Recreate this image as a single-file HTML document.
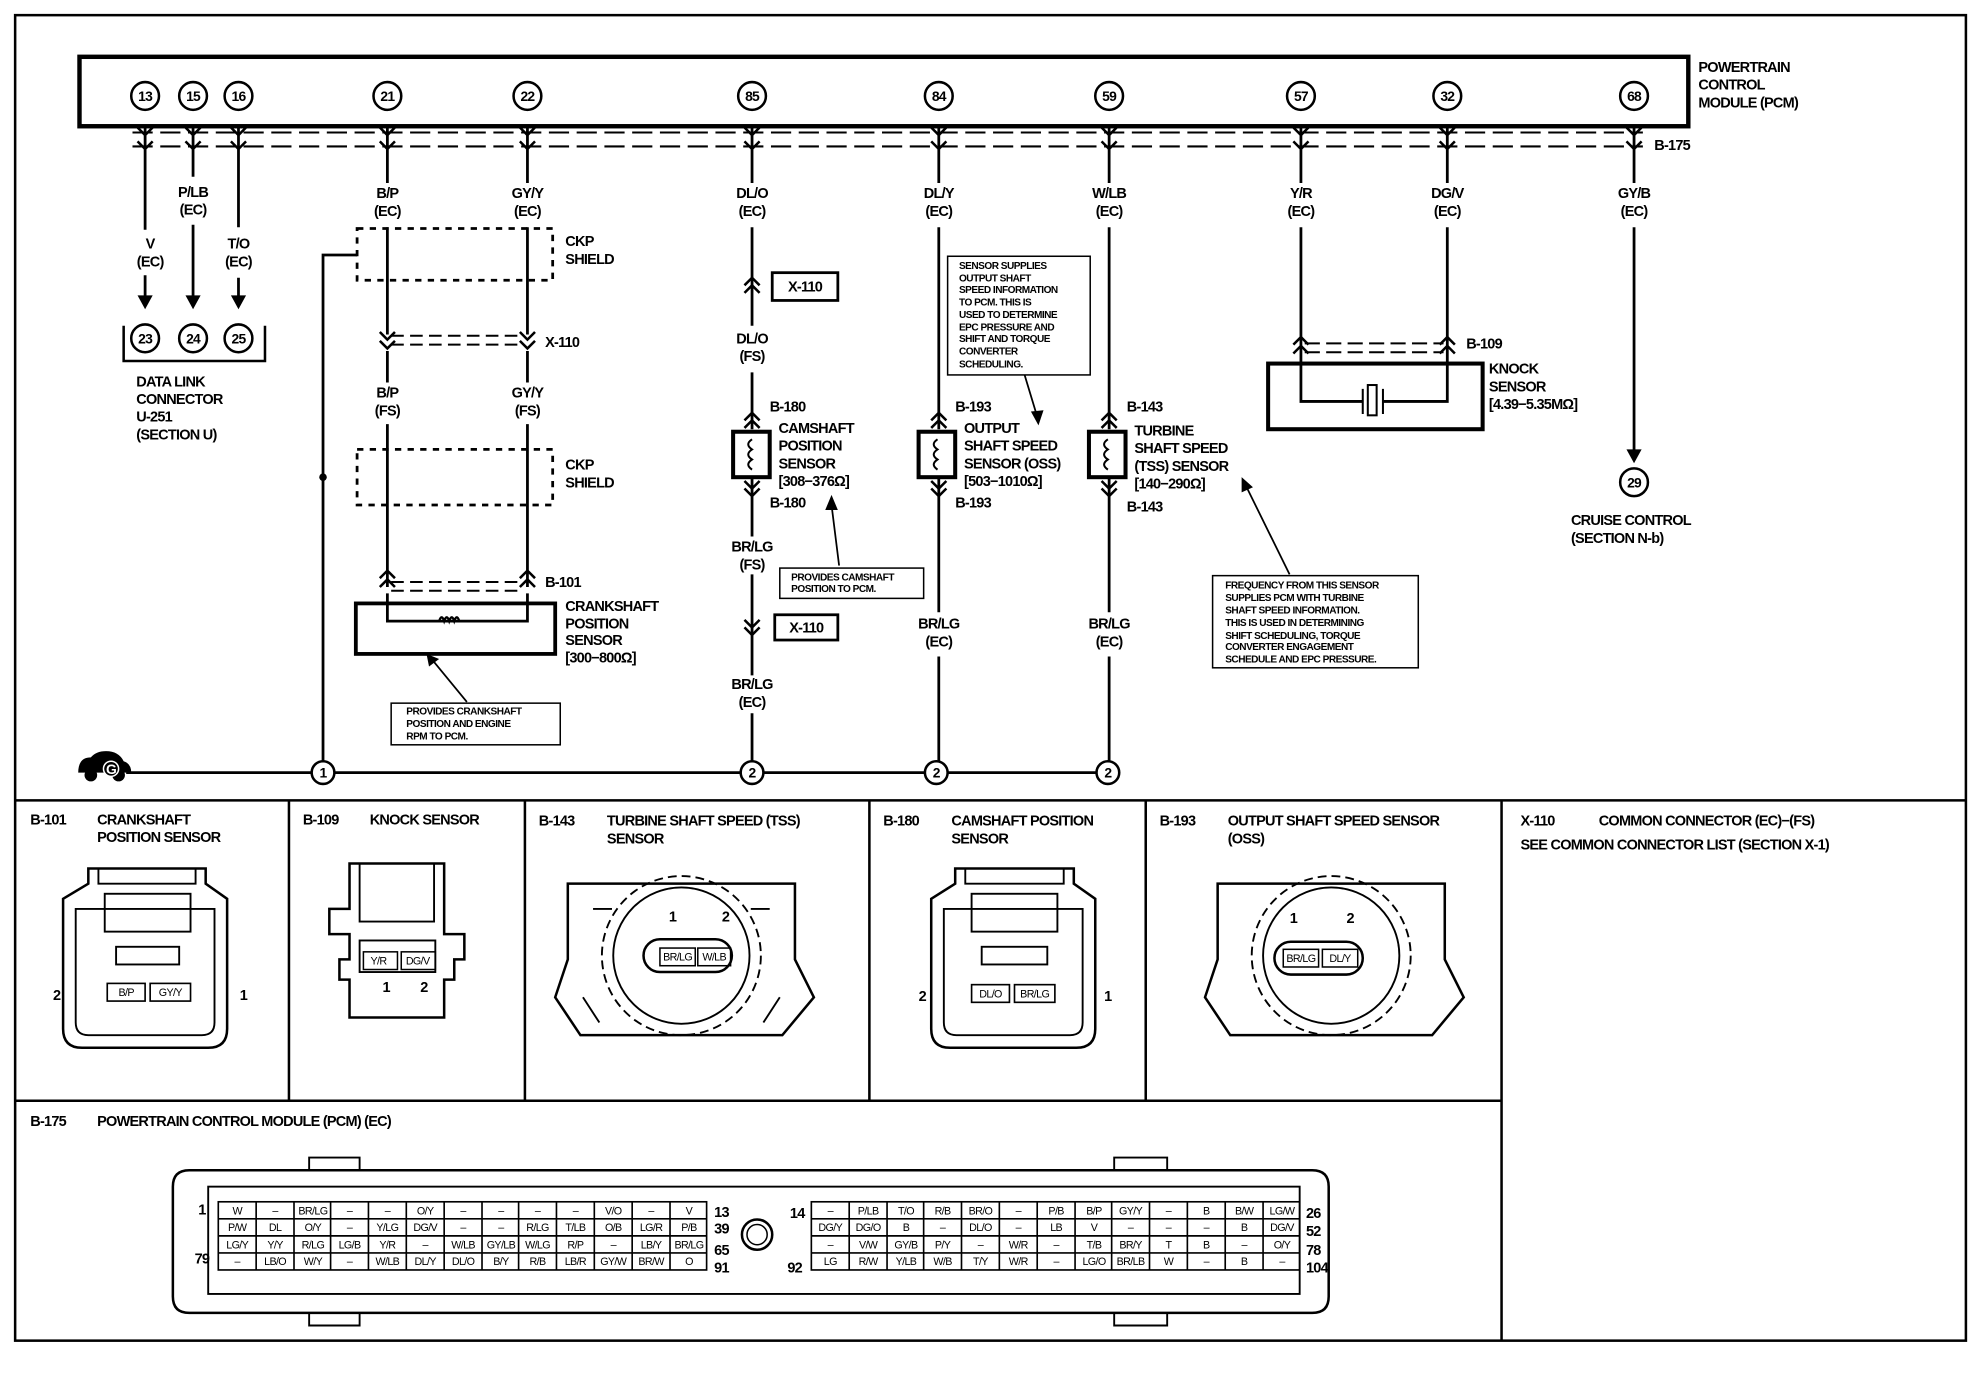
<!DOCTYPE html>
<html><head><meta charset="utf-8"><style>
html,body{margin:0;padding:0;background:#fff}
svg{display:block}
text{font-family:"Liberation Sans",sans-serif;font-weight:bold;fill:#000;font-size:11.5px;letter-spacing:-0.6px}
.s{font-size:8px;letter-spacing:-0.4px}
.c{text-anchor:middle}
.g{font-size:8.5px;text-anchor:middle;font-weight:normal;letter-spacing:-0.5px}
.n{font-weight:bold;font-size:11px;text-anchor:middle}
</style></head><body>
<svg width="1976" height="1376" viewBox="0 0 1566 1090" preserveAspectRatio="none" xmlns="http://www.w3.org/2000/svg">
<g fill="none" stroke="#000" stroke-width="1.6">
<rect x="12" y="12" width="1546" height="1050" stroke-width="2"/>
<rect x="63" y="45" width="1275" height="55" stroke-width="3.5"/>
<path d="M105 105H1302M105 116H1302" stroke-dasharray="16,6"/>
<g stroke-width="2.2">
<path d="M115 100V182M115 218V238M153 100V140M153 178V238M189 100V180M189 220V238"/>
<path d="M307 100V145M307 180V265M307 278V303M307 336V465M307 470V492H418V470M418 465V336M418 303V278M418 265V180M418 100V145"/>
<path d="M596 100V145M596 180V258M596 295V340M596 378V425M596 455V535M596 565V612"/>
<path d="M744 100V145M744 180V340M744 378V485M744 520V612"/>
<path d="M879 100V145M879 180V340M879 378V485M879 520V612"/>
<path d="M1031 100V145M1031 180V318H1080M1096 318H1147V180M1147 100V145"/>
<path d="M1295 100V145M1295 180V358"/>
<path d="M100 612H878M256 612V202H283"/>
</g>
<g stroke-width="2" fill="#fff">
<circle cx="115" cy="76" r="11"/><circle cx="153" cy="76" r="11"/><circle cx="189" cy="76" r="11"/>
<circle cx="307" cy="76" r="11"/><circle cx="418" cy="76" r="11"/><circle cx="596" cy="76" r="11"/>
<circle cx="744" cy="76" r="11"/><circle cx="879" cy="76" r="11"/><circle cx="1031" cy="76" r="11"/>
<circle cx="1147" cy="76" r="11"/><circle cx="1295" cy="76" r="11"/>
<circle cx="115" cy="268" r="11"/><circle cx="153" cy="268" r="11"/><circle cx="189" cy="268" r="11"/>
<circle cx="1295" cy="382" r="11"/>
<circle cx="256" cy="612" r="9"/><circle cx="596" cy="612" r="9"/><circle cx="742" cy="612" r="9"/><circle cx="878" cy="612" r="9"/>
</g>
<g stroke-width="2">
<path d="M109 101L115 107L121 101M109 112L115 118L121 112"/>
<path d="M147 101L153 107L159 101M147 112L153 118L159 112"/>
<path d="M183 101L189 107L195 101M183 112L189 118L195 112"/>
<path d="M301 101L307 107L313 101M301 112L307 118L313 112"/>
<path d="M412 101L418 107L424 101M412 112L418 118L424 112"/>
<path d="M590 101L596 107L602 101M590 112L596 118L602 112"/>
<path d="M738 101L744 107L750 101M738 112L744 118L750 112"/>
<path d="M873 101L879 107L885 101M873 112L879 118L885 112"/>
<path d="M1025 101L1031 107L1037 101M1025 112L1031 118L1037 112"/>
<path d="M1141 101L1147 107L1153 101M1141 112L1147 118L1153 112"/>
<path d="M1289 101L1295 107L1301 101M1289 112L1295 118L1301 112"/>
</g>
<path d="M98 258V286H210V258" stroke-width="2"/>
<g fill="#000" stroke="none">
<path d="M109 234L121 234L115 245Z"/><path d="M147 234L159 234L153 245Z"/><path d="M183 234L195 234L189 245Z"/>
<path d="M1289 356L1301 356L1295 367Z"/>
<circle cx="256" cy="378" r="3"/>
</g>
<rect x="283" y="181" width="155" height="41" stroke-dasharray="5,5" stroke-width="2.2"/>
<rect x="283" y="356" width="155" height="44" stroke-dasharray="5,5" stroke-width="2.2"/>
<path d="M301 263L307 269L313 263M301 270L307 276L313 270M412 263L418 269L424 263M412 270L418 276L424 270" stroke-width="2"/>
<path d="M310 266H415M310 273H415" stroke-dasharray="10,5"/>
<path d="M301 458L307 452L313 458M301 465L307 459L313 465M412 458L418 452L424 458M412 465L418 459L424 465" stroke-width="2"/>
<path d="M310 461H415M310 468H415" stroke-dasharray="10,5"/>
<rect x="282" y="478" width="158" height="40" stroke-width="3"/>
<path d="M348 492q2-6 4 0q2-6 4 0q2-6 4 0q2-6 4 0" stroke-width="1.8"/>
<path d="M370 556L342 522M665 448L659 400M812 297L822 330M1022 455L987 384" stroke-width="1.4"/>
<g fill="#000" stroke="none">
<path d="M338 518L348 522L340 528Z"/><path d="M659 392L664 404L654 404Z"/><path d="M823 337L817 326L827 325Z"/><path d="M984 378L993 386L984 390Z"/>
</g>
<rect x="310" y="557" width="134" height="33" stroke-width="1.2"/>
<rect x="618" y="450" width="114" height="24" stroke-width="1.2"/>
<rect x="751" y="203" width="113" height="94" stroke-width="1.2"/>
<rect x="961" y="456" width="163" height="73" stroke-width="1.2"/>
<rect x="612" y="216" width="52" height="22" stroke-width="2.2"/>
<rect x="614" y="487" width="50" height="20" stroke-width="2.2"/>
<path d="M590 226L596 220L602 226M590 232L596 226L602 232M590 491L596 497L602 491M590 497L596 503L602 497" stroke-width="2"/>
<rect x="581" y="342" width="29" height="36" stroke-width="3.2"/>
<rect x="728" y="342" width="29" height="36" stroke-width="3.2"/>
<rect x="863" y="342" width="29" height="36" stroke-width="3.2"/>
<path d="M596 348q-6 4 0 8q-6 4 0 8q-6 4 0 8M743 348q-6 4 0 8q-6 4 0 8q-6 4 0 8M878 348q-6 4 0 8q-6 4 0 8q-6 4 0 8" stroke-width="1.6"/>
<path d="M590 333L596 327L602 333M590 339L596 333L602 339M590 381L596 387L602 381M590 387L596 393L602 387" stroke-width="2"/>
<path d="M738 333L744 327L750 333M738 339L744 333L750 339M738 381L744 387L750 381M738 387L744 393L750 387" stroke-width="2"/>
<path d="M873 333L879 327L885 333M873 339L879 333L885 339M873 381L879 387L885 381M873 387L879 393L885 387" stroke-width="2"/>
<path d="M1025 273L1031 267L1037 273M1025 280L1031 274L1037 280M1141 273L1147 267L1153 273M1141 280L1147 274L1153 280" stroke-width="2"/>
<path d="M1034 272H1144M1034 279H1144" stroke-dasharray="12,5"/>
<rect x="1005" y="288" width="170" height="52" stroke-width="3.2"/>
<rect x="1084" y="305" width="7" height="24" stroke-width="1.6"/>
<path d="M1080 308V328M1096 308V328" stroke-width="1.6"/>
</g>
<g fill="#000"><path d="M62 612q0-12 10-12q4-5 12-5q10 0 14 8q6 2 6 9z"/><circle cx="72" cy="614" r="5"/><circle cx="94" cy="614" r="5"/></g>
<circle cx="88" cy="609" r="6" fill="#000" stroke="#fff" stroke-width="1.2"/>
<text x="88" y="613" class="c" style="fill:#fff;font-size:11px">G</text>

<g class="n">
<text x="115" y="80" class="n">13</text><text x="153" y="80" class="n">15</text><text x="189" y="80" class="n">16</text>
<text x="307" y="80" class="n">21</text><text x="418" y="80" class="n">22</text><text x="596" y="80" class="n">85</text>
<text x="744" y="80" class="n">84</text><text x="879" y="80" class="n">59</text><text x="1031" y="80" class="n">57</text>
<text x="1147" y="80" class="n">32</text><text x="1295" y="80" class="n">68</text>
<text x="115" y="272" class="n">23</text><text x="153" y="272" class="n">24</text><text x="189" y="272" class="n">25</text>
<text x="1295" y="386" class="n">29</text>
<text x="256" y="616" class="n">1</text><text x="596" y="616" class="n">2</text><text x="742" y="616" class="n">2</text><text x="878" y="616" class="n">2</text>
</g>
<text x="1346" y="57">POWERTRAIN</text><text x="1346" y="71">CONTROL</text><text x="1346" y="85">MODULE (PCM)</text>
<text x="1311" y="119">B-175</text>
<g class="c">
<text x="153" y="156" class="c">P/LB</text><text x="153" y="170" class="c">(EC)</text>
<text x="119" y="197" class="c">V</text><text x="119" y="211" class="c">(EC)</text>
<text x="189" y="197" class="c">T/O</text><text x="189" y="211" class="c">(EC)</text>
<text x="307" y="157" class="c">B/P</text><text x="307" y="171" class="c">(EC)</text>
<text x="418" y="157" class="c">GY/Y</text><text x="418" y="171" class="c">(EC)</text>
<text x="307" y="315" class="c">B/P</text><text x="307" y="329" class="c">(FS)</text>
<text x="418" y="315" class="c">GY/Y</text><text x="418" y="329" class="c">(FS)</text>
<text x="596" y="157" class="c">DL/O</text><text x="596" y="171" class="c">(EC)</text>
<text x="596" y="272" class="c">DL/O</text><text x="596" y="286" class="c">(FS)</text>
<text x="596" y="437" class="c">BR/LG</text><text x="596" y="451" class="c">(FS)</text>
<text x="596" y="546" class="c">BR/LG</text><text x="596" y="560" class="c">(EC)</text>
<text x="744" y="157" class="c">DL/Y</text><text x="744" y="171" class="c">(EC)</text>
<text x="744" y="498" class="c">BR/LG</text><text x="744" y="512" class="c">(EC)</text>
<text x="879" y="157" class="c">W/LB</text><text x="879" y="171" class="c">(EC)</text>
<text x="879" y="498" class="c">BR/LG</text><text x="879" y="512" class="c">(EC)</text>
<text x="1031" y="157" class="c">Y/R</text><text x="1031" y="171" class="c">(EC)</text>
<text x="1147" y="157" class="c">DG/V</text><text x="1147" y="171" class="c">(EC)</text>
<text x="1295" y="157" class="c">GY/B</text><text x="1295" y="171" class="c">(EC)</text>
</g>
<text x="108" y="306">DATA LINK</text><text x="108" y="320">CONNECTOR</text><text x="108" y="334">U-251</text><text x="108" y="348">(SECTION U)</text>
<text x="448" y="195">CKP</text><text x="448" y="209">SHIELD</text>
<text x="448" y="372">CKP</text><text x="448" y="386">SHIELD</text>
<text x="432" y="275">X-110</text>
<text x="432" y="465">B-101</text>
<text x="448" y="484">CRANKSHAFT</text><text x="448" y="498">POSITION</text><text x="448" y="511">SENSOR</text><text x="448" y="525">[300−800Ω]</text>
<text x="322" y="566" class="s">PROVIDES CRANKSHAFT</text><text x="322" y="576" class="s">POSITION AND ENGINE</text><text x="322" y="586" class="s">RPM TO PCM.</text>
<text x="638" y="231" class="c">X-110</text><text x="639" y="501" class="c">X-110</text>
<text x="610" y="326">B-180</text><text x="610" y="402">B-180</text>
<text x="617" y="343">CAMSHAFT</text><text x="617" y="357">POSITION</text><text x="617" y="371">SENSOR</text><text x="617" y="385">[308−376Ω]</text>
<text x="627" y="460" class="s">PROVIDES CAMSHAFT</text><text x="627" y="469" class="s">POSITION TO PCM.</text>
<text x="757" y="326">B-193</text><text x="757" y="402">B-193</text>
<text x="764" y="343">OUTPUT</text><text x="764" y="357">SHAFT SPEED</text><text x="764" y="371">SENSOR (OSS)</text><text x="764" y="385">[503−1010Ω]</text>
<g class="s"><text x="760" y="213" class="s">SENSOR SUPPLIES</text><text x="760" y="223" class="s">OUTPUT SHAFT</text><text x="760" y="232" class="s">SPEED INFORMATION</text><text x="760" y="242" class="s">TO PCM. THIS IS</text><text x="760" y="252" class="s">USED TO DETERMINE</text><text x="760" y="262" class="s">EPC PRESSURE AND</text><text x="760" y="271" class="s">SHIFT AND TORQUE</text><text x="760" y="281" class="s">CONVERTER</text><text x="760" y="291" class="s">SCHEDULING.</text></g>
<text x="893" y="326">B-143</text><text x="893" y="405">B-143</text>
<text x="899" y="345">TURBINE</text><text x="899" y="359">SHAFT SPEED</text><text x="899" y="373">(TSS)  SENSOR</text><text x="899" y="387">[140−290Ω]</text>
<text x="971" y="466" class="s">FREQUENCY FROM THIS SENSOR</text><text x="971" y="476" class="s">SUPPLIES PCM WITH TURBINE</text><text x="971" y="486" class="s">SHAFT SPEED INFORMATION.</text><text x="971" y="496" class="s">THIS IS USED IN DETERMINING</text><text x="971" y="506" class="s">SHIFT SCHEDULING, TORQUE</text><text x="971" y="515" class="s">CONVERTER ENGAGEMENT</text><text x="971" y="525" class="s">SCHEDULE AND EPC PRESSURE.</text>
<text x="1162" y="276">B-109</text>
<text x="1180" y="296">KNOCK</text><text x="1180" y="310">SENSOR</text><text x="1180" y="324">[4.39−5.35MΩ]</text>
<text x="1245" y="416">CRUISE CONTROL</text><text x="1245" y="430">(SECTION N-b)</text>

<g fill="none" stroke="#000" stroke-width="2">
<path d="M12 634H1558M12 872H1190M229 634V872M416 634V872M689 634V872M908 634V872M1190 634V1062"/>
</g>
<text x="24" y="653">B-101</text><text x="77" y="653">CRANKSHAFT</text><text x="77" y="667">POSITION SENSOR</text>
<text x="240" y="653">B-109</text><text x="293" y="653">KNOCK SENSOR</text>
<text x="427" y="654">B-143</text><text x="481" y="654">TURBINE SHAFT SPEED (TSS)</text><text x="481" y="668">SENSOR</text>
<text x="700" y="654">B-180</text><text x="754" y="654">CAMSHAFT POSITION</text><text x="754" y="668">SENSOR</text>
<text x="919" y="654">B-193</text><text x="973" y="654">OUTPUT SHAFT SPEED SENSOR</text><text x="973" y="668">(OSS)</text>
<text x="1205" y="654">X-110</text><text x="1267" y="654">COMMON CONNECTOR  (EC)−(FS)</text><text x="1205" y="673">SEE COMMON CONNECTOR LIST (SECTION X-1)</text>
<text x="24" y="892">B-175</text><text x="77" y="892">POWERTRAIN CONTROL MODULE (PCM) (EC)</text>

<g fill="none" stroke="#000" stroke-width="2">
<path d="M70 688H163V700L180 712V815Q180 830 165 830H65Q50 830 50 815V712L70 700Z"/>
<path d="M78 688V700H155V688M60 720V810Q60 820 70 820H160Q170 820 170 810V720Z" stroke-width="1.5"/>
<rect x="83" y="708" width="68" height="30" stroke-width="1.5"/><rect x="92" y="750" width="50" height="14" stroke-width="1.5"/>
<rect x="85" y="779" width="30" height="14" stroke-width="1.3"/><rect x="119" y="779" width="32" height="14" stroke-width="1.3"/>
<path d="M277 684H352V740H368V760H360V776H352V806H277V776H269V760H277V740H261V720H277Z"/>
<path d="M285 684V730H344V684" stroke-width="1.5"/>
<rect x="285" y="745" width="60" height="25" stroke-width="1.5"/>
<rect x="288" y="754" width="27" height="14" stroke-width="1.2"/><rect x="318" y="754" width="27" height="14" stroke-width="1.2"/>
<path d="M450 700H630V760L645 790L620 820H460L440 790L450 760Z"/>
<circle cx="540" cy="757" r="63" stroke-dasharray="7,4" stroke-width="1.5"/>
<circle cx="540" cy="757" r="54" stroke-width="1.5"/>
<rect x="510" y="744" width="70" height="26" rx="13" stroke-width="2"/>
<rect x="523" y="751" width="28" height="14" stroke-width="1.2"/><rect x="553" y="751" width="26" height="14" stroke-width="1.2"/>
<path d="M470 720H485M595 720H610M462 790L475 810M618 790L605 810" stroke-width="1.5"/>
<path d="M757 688H851V700L868 712V815Q868 830 853 830H753Q738 830 738 815V712L757 700Z"/>
<path d="M765 688V700H843V688M748 720V810Q748 820 758 820H848Q858 820 858 810V720Z" stroke-width="1.5"/>
<rect x="770" y="708" width="68" height="30" stroke-width="1.5"/><rect x="778" y="750" width="52" height="14" stroke-width="1.5"/>
<rect x="770" y="780" width="30" height="14" stroke-width="1.3"/><rect x="804" y="780" width="32" height="14" stroke-width="1.3"/>
<path d="M965 700H1145V760L1160 790L1135 820H975L955 790L965 760Z"/>
<circle cx="1055" cy="757" r="63" stroke-dasharray="7,4" stroke-width="1.5"/>
<circle cx="1055" cy="757" r="54" stroke-width="1.5"/>
<rect x="1010" y="746" width="70" height="26" rx="13" stroke-width="2"/>
<rect x="1017" y="752" width="28" height="14" stroke-width="1.2"/><rect x="1048" y="752" width="28" height="14" stroke-width="1.2"/>
<path d="M150 927H1040Q1053 927 1053 940V1027Q1053 1040 1040 1040H150Q137 1040 137 1027V940Q137 927 150 927Z"/>
<rect x="165" y="940" width="865" height="85" stroke-width="1.5"/>
<path d="M245 927V917H285V927M883 927V917H925V927M245 1040V1050H285V1040M883 1040V1050H925V1040" stroke-width="1.5"/>
<circle cx="600" cy="978" r="12"/><circle cx="600" cy="978" r="8" stroke-width="1.2"/>
<g stroke-width="1.3">
<rect x="173" y="952" width="387" height="54"/><rect x="643" y="952" width="387" height="54"/>
<path d="M173 965.5H560M173 979H560M173 992.5H560M643 965.5H1030M643 979H1030M643 992.5H1030"/>
<path d="M203 952V1006M233 952V1006M262 952V1006M292 952V1006M322 952V1006M352 952V1006M382 952V1006M411 952V1006M441 952V1006M471 952V1006M501 952V1006M531 952V1006"/>
<path d="M673 952V1006M703 952V1006M732 952V1006M762 952V1006M792 952V1006M822 952V1006M852 952V1006M881 952V1006M911 952V1006M941 952V1006M971 952V1006M1001 952V1006"/>
</g>
</g>
<text x="42" y="792">2</text><text x="190" y="792">1</text>
<text x="306" y="786" class="c">1</text><text x="336" y="786" class="c">2</text>
<text x="533" y="730" class="c">1</text><text x="575" y="730" class="c">2</text>
<text x="728" y="793">2</text><text x="875" y="793">1</text>
<text x="1025" y="731" class="c">1</text><text x="1070" y="731" class="c">2</text>
<g class="g">
<text x="300" y="764" class="g">Y/R</text><text x="331" y="764" class="g">DG/V</text>
<text x="537" y="761" class="g">BR/LG</text><text x="566" y="761" class="g">W/LB</text>
<text x="1031" y="762" class="g">BR/LG</text><text x="1062" y="762" class="g">DL/Y</text>
<text x="100" y="789" class="g">B/P</text><text x="135" y="789" class="g">GY/Y</text>
<text x="785" y="790" class="g">DL/O</text><text x="820" y="790" class="g">BR/LG</text>
</g>
<text x="160" y="962" class="c">1</text><text x="160" y="1001" class="c">79</text>
<text x="566" y="964">13</text><text x="566" y="977">39</text><text x="566" y="994">65</text><text x="566" y="1008">91</text>
<text x="626" y="965">14</text><text x="624" y="1008">92</text>
<text x="1035" y="965">26</text><text x="1035" y="979">52</text><text x="1035" y="994">78</text><text x="1035" y="1008">104</text>
<g>
<text x="188" y="962" class="g">W</text><text x="218" y="962" class="g">–</text><text x="248" y="962" class="g">BR/LG</text><text x="277" y="962" class="g">–</text><text x="307" y="962" class="g">–</text><text x="337" y="962" class="g">O/Y</text><text x="367" y="962" class="g">–</text><text x="397" y="962" class="g">–</text><text x="426" y="962" class="g">–</text><text x="456" y="962" class="g">–</text><text x="486" y="962" class="g">V/O</text><text x="516" y="962" class="g">–</text><text x="546" y="962" class="g">V</text>
<text x="188" y="975" class="g">P/W</text><text x="218" y="975" class="g">DL</text><text x="248" y="975" class="g">O/Y</text><text x="277" y="975" class="g">–</text><text x="307" y="975" class="g">Y/LG</text><text x="337" y="975" class="g">DG/V</text><text x="367" y="975" class="g">–</text><text x="397" y="975" class="g">–</text><text x="426" y="975" class="g">R/LG</text><text x="456" y="975" class="g">T/LB</text><text x="486" y="975" class="g">O/B</text><text x="516" y="975" class="g">LG/R</text><text x="546" y="975" class="g">P/B</text>
<text x="188" y="989" class="g">LG/Y</text><text x="218" y="989" class="g">Y/Y</text><text x="248" y="989" class="g">R/LG</text><text x="277" y="989" class="g">LG/B</text><text x="307" y="989" class="g">Y/R</text><text x="337" y="989" class="g">–</text><text x="367" y="989" class="g">W/LB</text><text x="397" y="989" class="g">GY/LB</text><text x="426" y="989" class="g">W/LG</text><text x="456" y="989" class="g">R/P</text><text x="486" y="989" class="g">–</text><text x="516" y="989" class="g">LB/Y</text><text x="546" y="989" class="g">BR/LG</text>
<text x="188" y="1002" class="g">–</text><text x="218" y="1002" class="g">LB/O</text><text x="248" y="1002" class="g">W/Y</text><text x="277" y="1002" class="g">–</text><text x="307" y="1002" class="g">W/LB</text><text x="337" y="1002" class="g">DL/Y</text><text x="367" y="1002" class="g">DL/O</text><text x="397" y="1002" class="g">B/Y</text><text x="426" y="1002" class="g">R/B</text><text x="456" y="1002" class="g">LB/R</text><text x="486" y="1002" class="g">GY/W</text><text x="516" y="1002" class="g">BR/W</text><text x="546" y="1002" class="g">O</text>
<text x="658" y="962" class="g">–</text><text x="688" y="962" class="g">P/LB</text><text x="718" y="962" class="g">T/O</text><text x="747" y="962" class="g">R/B</text><text x="777" y="962" class="g">BR/O</text><text x="807" y="962" class="g">–</text><text x="837" y="962" class="g">P/B</text><text x="867" y="962" class="g">B/P</text><text x="896" y="962" class="g">GY/Y</text><text x="926" y="962" class="g">–</text><text x="956" y="962" class="g">B</text><text x="986" y="962" class="g">B/W</text><text x="1016" y="962" class="g">LG/W</text>
<text x="658" y="975" class="g">DG/Y</text><text x="688" y="975" class="g">DG/O</text><text x="718" y="975" class="g">B</text><text x="747" y="975" class="g">–</text><text x="777" y="975" class="g">DL/O</text><text x="807" y="975" class="g">–</text><text x="837" y="975" class="g">LB</text><text x="867" y="975" class="g">V</text><text x="896" y="975" class="g">–</text><text x="926" y="975" class="g">–</text><text x="956" y="975" class="g">–</text><text x="986" y="975" class="g">B</text><text x="1016" y="975" class="g">DG/V</text>
<text x="658" y="989" class="g">–</text><text x="688" y="989" class="g">V/W</text><text x="718" y="989" class="g">GY/B</text><text x="747" y="989" class="g">P/Y</text><text x="777" y="989" class="g">–</text><text x="807" y="989" class="g">W/R</text><text x="837" y="989" class="g">–</text><text x="867" y="989" class="g">T/B</text><text x="896" y="989" class="g">BR/Y</text><text x="926" y="989" class="g">T</text><text x="956" y="989" class="g">B</text><text x="986" y="989" class="g">–</text><text x="1016" y="989" class="g">O/Y</text>
<text x="658" y="1002" class="g">LG</text><text x="688" y="1002" class="g">R/W</text><text x="718" y="1002" class="g">Y/LB</text><text x="747" y="1002" class="g">W/B</text><text x="777" y="1002" class="g">T/Y</text><text x="807" y="1002" class="g">W/R</text><text x="837" y="1002" class="g">–</text><text x="867" y="1002" class="g">LG/O</text><text x="896" y="1002" class="g">BR/LB</text><text x="926" y="1002" class="g">W</text><text x="956" y="1002" class="g">–</text><text x="986" y="1002" class="g">B</text><text x="1016" y="1002" class="g">–</text>
</g>
</svg>
</body></html>
